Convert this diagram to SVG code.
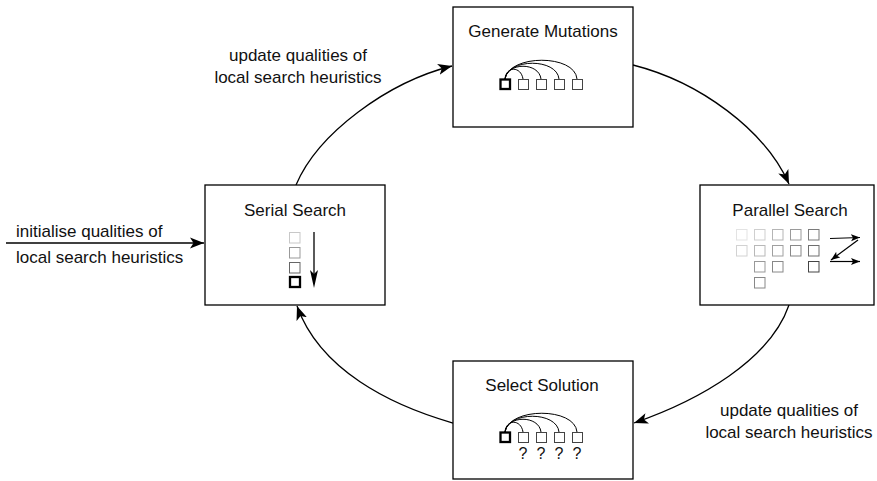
<svg xmlns="http://www.w3.org/2000/svg" width="877" height="481" viewBox="0 0 877 481">
<style>
text{font-family:"Liberation Sans",Arial,Helvetica,sans-serif;fill:#111;}
.t{font-size:17px;text-anchor:middle;}
.lbl{font-size:17px;}
.box{fill:#fff;stroke:#000;stroke-width:1.3;}
.sq{fill:#fff;stroke:#444;stroke-width:1;}
.sqb{fill:#fff;stroke:#000;stroke-width:2.3;}
.arc{fill:none;stroke:#000;stroke-width:1;}
.edge{fill:none;stroke:#000;stroke-width:1.3;marker-end:url(#ah);}
.sm{fill:none;stroke:#000;stroke-width:1.2;marker-end:url(#ahs);}
</style>
<defs>
<marker id="ah" markerUnits="userSpaceOnUse" markerWidth="15" markerHeight="12" refX="14" refY="5.5" orient="auto" viewBox="0 0 15 11">
<path d="M0,0 L14,5.5 L0,11 L3.5,5.5 z" fill="#000"/>
</marker>
<marker id="ahs" markerUnits="userSpaceOnUse" markerWidth="10" markerHeight="8" refX="9" refY="3.5" orient="auto" viewBox="0 0 10 7">
<path d="M0,0 L9,3.5 L0,7 L2,3.5 z" fill="#000"/>
</marker>
</defs>

<g id="connectors">
<path class="edge" d="M296,185 C318,133 388,82 452,66"/>
<path class="edge" d="M633,65 C700,82 765,130 789,184"/>
<path class="edge" d="M789,305 C770,360 700,400 634,423"/>
<path class="edge" d="M453,423 C390,405 320,370 297,306"/>
<path class="edge" d="M6,243 L204,243"/>
</g>

<g id="label-top">
<text class="t" x="298" y="61">update qualities of</text>
<text class="t" x="298" y="83">local search heuristics</text>
</g>
<g id="label-left">
<text class="lbl" x="16" y="237">initialise qualities of</text>
<text class="lbl" x="16" y="263">local search heuristics</text>
</g>
<g id="label-bottom">
<text class="t" x="789" y="416">update qualities of</text>
<text class="t" x="789" y="438">local search heuristics</text>
</g>

<g id="generate-mutations">
<rect class="box" x="453" y="7" width="180" height="120"/>
<text class="t" x="543" y="37">Generate Mutations</text>
<path class="arc" d="M505,79 C506,66 521,66 523,79"/>
<path class="arc" d="M505,79 C507,62 539,62 541,79"/>
<path class="arc" d="M505,79 C508,58 557,58 559,79"/>
<path class="arc" d="M505,79 C509,54 575,54 577,79"/>
<rect class="sq" x="518.5" y="79.5" width="10" height="10"/>
<rect class="sq" x="536.5" y="79.5" width="10" height="10"/>
<rect class="sq" x="554.5" y="79.5" width="10" height="10"/>
<rect class="sq" x="572.5" y="79.5" width="10" height="10"/>
<rect class="sqb" x="500.5" y="79.5" width="9.5" height="9.5"/>
</g>

<g id="serial-search">
<rect class="box" x="205" y="185" width="180" height="120"/>
<text class="t" x="295" y="216">Serial Search</text>
<rect x="289.5" y="232.5" width="10.5" height="10.5" fill="#fff" stroke="#c8c8c8"/>
<rect x="289.5" y="247.5" width="10.5" height="10.5" fill="#fff" stroke="#999"/>
<rect x="289.5" y="262.5" width="10.5" height="10.5" fill="#fff" stroke="#666"/>
<rect x="290" y="277" width="10" height="10" fill="#fff" stroke="#000" stroke-width="2.3"/>
<line x1="314" y1="232" x2="314" y2="276" stroke="#000" stroke-width="1.3"/>
<path d="M310,270 L314,288 L318,270 L314,274 z" fill="#000"/>
</g>

<g id="parallel-search">
<rect class="box" x="700" y="185" width="174" height="120"/>
<text class="t" x="790" y="216">Parallel Search</text>
<rect x="736.5" y="229.5" width="10.5" height="10.5" fill="#fff" stroke="#e3e3e3"/>
<rect x="754.5" y="229.5" width="10.5" height="10.5" fill="#fff" stroke="#cfcfcf"/>
<rect x="772.5" y="229.5" width="10.5" height="10.5" fill="#fff" stroke="#b5b5b5"/>
<rect x="790.5" y="229.5" width="10.5" height="10.5" fill="#fff" stroke="#9a9a9a"/>
<rect x="808.5" y="229.5" width="10.5" height="10.5" fill="#fff" stroke="#7a7a7a"/>
<rect x="736.5" y="245.5" width="10.5" height="10.5" fill="#fff" stroke="#d2d2d2"/>
<rect x="754.5" y="245.5" width="10.5" height="10.5" fill="#fff" stroke="#b8b8b8"/>
<rect x="772.5" y="245.5" width="10.5" height="10.5" fill="#fff" stroke="#a0a0a0"/>
<rect x="790.5" y="245.5" width="10.5" height="10.5" fill="#fff" stroke="#888"/>
<rect x="808.5" y="245.5" width="10.5" height="10.5" fill="#fff" stroke="#6e6e6e"/>
<rect x="754.5" y="261.5" width="10.5" height="10.5" fill="#fff" stroke="#999"/>
<rect x="772.5" y="261.5" width="10.5" height="10.5" fill="#fff" stroke="#888"/>
<rect x="808.5" y="261.5" width="10.5" height="10.5" fill="#fff" stroke="#444"/>
<rect x="754.5" y="277.5" width="10.5" height="10.5" fill="#fff" stroke="#888"/>
<path class="sm" d="M830,238.5 L860,237.5"/>
<path class="sm" d="M858,240 L831,260"/>
<path class="sm" d="M830,261.5 L860,261.5"/>
</g>

<g id="select-solution">
<rect class="box" x="453" y="361" width="180" height="118"/>
<text class="t" x="542" y="391">Select Solution</text>
<path class="arc" d="M505,432 C506,419 521,419 523,432"/>
<path class="arc" d="M505,432 C507,415 539,415 541,432"/>
<path class="arc" d="M505,432 C508,411 557,411 559,432"/>
<path class="arc" d="M505,432 C509,407 575,407 577,432"/>
<rect class="sq" x="518.5" y="432.5" width="10" height="10"/>
<rect class="sq" x="536.5" y="432.5" width="10" height="10"/>
<rect class="sq" x="554.5" y="432.5" width="10" height="10"/>
<rect class="sq" x="572.5" y="432.5" width="10" height="10"/>
<rect class="sqb" x="500.5" y="432.5" width="9.5" height="9.5"/>
<text class="t" x="523" y="459" style="font-size:16px">?</text>
<text class="t" x="541" y="459" style="font-size:16px">?</text>
<text class="t" x="559" y="459" style="font-size:16px">?</text>
<text class="t" x="577" y="459" style="font-size:16px">?</text>
</g>
</svg>
